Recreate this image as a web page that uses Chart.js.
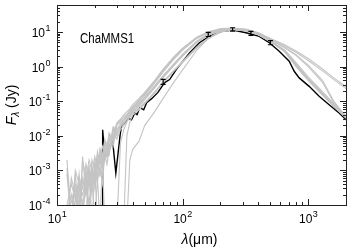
<!DOCTYPE html>
<html>
<head>
<meta charset="utf-8">
<script src="https://cdn.jsdelivr.net/npm/chart.js@4.4.1/dist/chart.umd.min.js"></script>
<style>
  html, body { margin: 0; padding: 0; background: #fff; }
  canvas { display: block; }
</style>
</head>
<body>
<canvas id="sed" width="354" height="250"></canvas>
<script>
'use strict'

// wavelength grid of the model SEDs (micron)
const wavelengths = [12, 13, 14, 15, 16, 17, 18, 19, 20, 21, 22, 23, 24, 25, 26, 27, 28, 29, 30, 32, 34, 36, 38, 40,
  45, 50, 60, 70, 85, 100, 130, 160, 200, 250, 320, 400, 500, 650, 800, 1000, 1300, 1600, 2000]

// grey model fluxes (Jy), one per fit
const model1 = [2e-3, 5e-5, 3e-4, 1e-4, 6e-4, 2e-4, 8e-4, 3e-4, 1.5e-3, 6e-4, 3e-3, 1.5e-3, 5e-3, 3e-3, 8e-3, 6e-3, 1.2e-2, 1e-2, 1.6e-2, 2e-2, 2.8e-2, 3.5e-2, 4.5e-2, 5.5e-2,
  0.1, 0.15, 0.33, 0.7, 1.6, 3.0, 6.5, 9.5, 12, 12.5, 11, 8.5, 5.5, 2.9, 1.2, 0.45, 0.17, 0.08, 0.037]
const model2 = [5e-5, 2e-4, 5e-5, 8e-4, 1e-4, 4e-4, 1.2e-3, 5e-4, 6e-4, 2e-3, 8e-4, 3e-3, 2e-3, 6e-3, 4e-3, 1e-2, 7e-3, 1.4e-2, 1.2e-2, 1.8e-2, 2.5e-2, 3e-2, 4e-2, 5e-2,
  0.08, 0.12, 0.25, 0.5, 1.1, 2.1, 5.2, 8.2, 11, 12, 11, 8.5, 5.6, 3.0, 1.3, 0.5, 0.19, 0.085, 0.038]
const model3 = [3e-5, 3e-5, 1.5e-4, 3e-5, 2.5e-3, 2e-4, 6e-4, 1e-3, 4e-4, 1.5e-3, 2.5e-3, 1e-3, 4e-3, 2.5e-3, 6e-3, 5e-3, 9e-3, 1.3e-2, 1e-2, 2e-2, 2.2e-2, 3.2e-2, 4e-2, 6e-2,
  0.09, 0.13, 0.28, 0.55, 1.2, 2.3, 5.5, 8.8, 11.5, 13, 12, 9.5, 6.5, 4.3, 2.8, 1.7, 0.85, 0.47, 0.26]
const model4 = [5e-5, 1.2e-4, 4e-4, 2e-4, 5e-5, 1e-3, 3e-4, 2e-3, 1e-3, 3e-3, 1.5e-3, 5e-3, 3.5e-3, 2.5e-3, 9e-3, 7e-3, 1.5e-2, 1.1e-2, 2e-2, 2.5e-2, 3e-2, 4e-2, 5e-2, 6.5e-2,
  0.11, 0.17, 0.38, 0.8, 1.8, 3.3, 7, 10, 12.5, 13, 12, 9.5, 6.4, 4.0, 2.6, 1.5, 0.75, 0.42, 0.23]
const model5 = [3e-5, 3e-5, 3e-5, 3e-4, 1e-4, 5e-5, 7e-4, 2e-4, 2e-3, 5e-4, 1.2e-3, 4e-4, 3e-3, 1.5e-3, 4e-3, 8e-3, 5e-3, 1e-2, 8e-3, 1.5e-2, 2e-2, 2.6e-2, 3.5e-2, 4.5e-2,
  0.06, 0.09, 0.18, 0.35, 0.75, 1.4, 3.6, 6.5, 10, 12, 11, 8.4, 5.3, 2.7, 1.0, 0.4, 0.15, 0.07, 0.033]
const model6 = [1e-4, 4e-4, 1.5e-4, 6e-4, 3e-4, 1.5e-3, 5e-4, 9e-4, 2.5e-3, 1.2e-3, 4e-3, 2e-3, 6e-3, 4e-3, 1.1e-2, 8e-3, 1.6e-2, 1.3e-2, 2.2e-2, 2.8e-2, 3.5e-2, 4.2e-2, 5.5e-2, 7e-2,
  0.1, 0.16, 0.36, 0.75, 1.7, 3.1, 6.8, 9.8, 12, 12.5, 11.5, 9.0, 6.0, 3.6, 2.2, 1.1, 0.4, 0.1, 0.035]
const model7 = [3e-5, 3e-5, 8e-4, 3e-5, 3e-5, 3e-5, 1.5e-3, 3e-5, 3e-5, 6e-4, 3e-5, 3e-5, 3e-5, 3e-5, 3e-5, 3e-5, 3e-5, 3e-5, 3e-5, 6e-3, 1.5e-2, 2.5e-2, 3.5e-2, 5e-2,
  0.07, 0.11, 0.24, 0.48, 1.05, 2.0, 5.0, 8.0, 11, 12, 11, 8.6, 5.5, 2.8, 1.1, 0.43, 0.16, 0.075, 0.034]
const model8 = [1.2e-3, 3e-5, 3e-5, 5e-4, 3e-5, 3e-5, 3e-5, 9e-4, 3e-5, 3e-5, 3e-5, 2e-3, 3e-5, 3e-5, 3e-5, 3e-5, 3e-5, 3e-5, 3e-5, 3e-5, 3e-5, 1e-2, 2.5e-2, 4e-2,
  0.055, 0.085, 0.17, 0.34, 0.72, 1.3, 3.4, 6.3, 9.8, 11.5, 11, 8.4, 5.4, 2.7, 1.05, 0.41, 0.155, 0.072, 0.033]
const model9 = [3e-5, 3e-5, 3e-5, 3e-5, 3e-5, 7e-4, 3e-5, 3e-5, 1e-3, 3e-5, 3e-5, 3e-5, 3e-5, 3e-5, 3e-5, 3e-5, 3e-5, 3e-5, 3e-5, 3e-5, 3e-5, 3e-5, 2e-3, 4e-3,
  0.007, 0.02, 0.05, 0.12, 0.35, 0.8, 3, 6.5, 10.5, 12, 11.2, 8.6, 5.6, 2.9, 1.15, 0.44, 0.17, 0.078, 0.036]
const model10 = [3e-5, 6e-4, 2e-4, 5e-5, 1.8e-3, 7e-4, 1e-4, 1.2e-3, 3e-4, 8e-4, 4e-3, 2e-3, 7e-3, 5e-3, 3e-3, 1e-2, 8e-3, 1.8e-2, 1.4e-2, 2.2e-2, 3e-2, 3.8e-2, 5e-2, 6e-2,
  0.08, 0.13, 0.27, 0.52, 1.15, 2.1, 5.1, 8.1, 11.2, 12.3, 11.3, 8.8, 5.9, 3.5, 2.1, 1.0, 0.35, 0.09, 0.034]
const model11 = [8e-4, 3e-5, 1e-3, 4e-4, 2e-4, 6e-4, 2e-3, 1e-3, 5e-4, 3.5e-3, 1.5e-3, 2.5e-3, 8e-3, 5e-3, 1.2e-2, 9e-3, 1.8e-2, 1.5e-2, 2.4e-2, 3e-2, 4e-2, 5e-2, 6e-2, 8e-2,
  0.12, 0.18, 0.4, 0.85, 1.9, 3.4, 7, 10, 12, 12.3, 11, 8.3, 5.4, 2.8, 1.1, 0.42, 0.16, 0.076, 0.035]
const model12 = [3e-5, 3e-5, 5e-5, 1.5e-4, 5e-4, 3e-4, 1e-4, 4e-4, 1.2e-3, 2e-3, 7e-4, 1e-3, 2e-3, 4.5e-3, 3e-3, 6e-3, 1.1e-2, 9e-3, 1.2e-2, 1.8e-2, 2.4e-2, 3e-2, 3.8e-2, 5e-2,
  0.06, 0.09, 0.19, 0.36, 0.78, 1.4, 3.7, 6.7, 10.2, 11.8, 10.8, 8.3, 5.3, 2.7, 1.05, 0.41, 0.155, 0.073, 0.034]
const models = [model1, model2, model3, model4, model5, model6, model7, model8, model9, model10, model11, model12]

// best fit (black)
const bestWave = [23.0, 23.1, 24.0, 25.4, 27.6, 29.4, 31.9, 32.8, 34.7, 36.8, 39.2, 41.6, 43.4, 45.6, 49.0, 51.7, 56.7, 63.4,
  72, 78.8, 89, 114, 136, 164, 209, 251, 320, 408, 490, 588, 706, 774, 848, 1018, 1222, 1468, 1762, 2004]
const bestFlux = [5e-5, 0.0149, 0.0025, 0.0028, 0.0085, 0.00083, 0.0114, 0.0208, 0.0233, 0.0326, 0.0291, 0.0455, 0.0407, 0.0649, 0.0568, 0.0906, 0.118, 0.176,
  0.343, 0.42, 0.82, 2.49, 4.86, 7.56, 10.5, 11.3, 9.48, 7.41, 4.86, 2.77, 1.42, 0.73, 0.47, 0.268, 0.138, 0.079, 0.0455, 0.029]

// observed photometry
const obsWave = [70, 160, 250, 350, 500]
const obsFlux = [0.36, 8.5, 11.8, 9.1, 4.9]
const obsErr = [0.18, 0.15, 0.12, 0.14, 0.15] // fractional

const xMajor = [10, 100, 1000]
const yMajor = [1e-4, 1e-3, 1e-2, 1e-1, 1, 10]

const FONT = '"Liberation Sans", Arial, sans-serif'

function drawPow(ctx, exp, px, py, align) {
  const base = '10'
  const e = String(exp)
  ctx.font = '12px ' + FONT
  const wb = ctx.measureText(base).width
  ctx.font = '9px ' + FONT
  const we = ctx.measureText(e).width
  const w = wb + we
  const left = align === 'center' ? px - w / 2 : px - w
  ctx.textAlign = 'left'
  ctx.textBaseline = 'alphabetic'
  ctx.font = '12px ' + FONT
  ctx.fillText(base, left, py)
  ctx.font = '9px ' + FONT
  ctx.fillText(e, left + wb + 0.5, py - 6)
}

const sedFrame = {
  id: 'sedFrame',
  afterDatasetsDraw(chart) {
    const { ctx, chartArea: a, scales } = chart
    const x = scales.x
    const y = scales.y
    ctx.save()

    // error bars
    ctx.strokeStyle = '#000'
    ctx.lineWidth = 1.2
    obsWave.forEach((w, i) => {
      const px = x.getPixelForValue(w)
      const lo = y.getPixelForValue(obsFlux[i] / (1 + obsErr[i]))
      const hi = y.getPixelForValue(obsFlux[i] * (1 + obsErr[i]))
      ctx.beginPath()
      ctx.moveTo(px, lo); ctx.lineTo(px, hi)
      ctx.moveTo(px - 2.5, lo); ctx.lineTo(px + 2.5, lo)
      ctx.moveTo(px - 2.5, hi); ctx.lineTo(px + 2.5, hi)
      ctx.stroke()
    })

    // frame
    ctx.strokeStyle = '#222'
    ctx.lineWidth = 1
    ctx.strokeRect(Math.round(a.left) + 0.5, Math.round(a.top) + 0.5,
      Math.round(a.right - a.left), Math.round(a.bottom - a.top))

    // ticks, inward on all sides
    ctx.beginPath()
    for (let d = 10; d < 2000; d *= 10) {
      for (let k = 1; k < 10; k++) {
        const v = k * d
        if (v > 2000) break
        const px = Math.round(x.getPixelForValue(v)) + 0.5
        const len = k === 1 ? 6 : 3
        ctx.moveTo(px, a.bottom); ctx.lineTo(px, a.bottom - len)
        ctx.moveTo(px, a.top); ctx.lineTo(px, a.top + len)
      }
    }
    for (let d = 1e-4; d < 60; d *= 10) {
      for (let k = 1; k < 10; k++) {
        const v = k * d
        if (v > 60) break
        const py = Math.round(y.getPixelForValue(v)) + 0.5
        const len = k === 1 ? 6 : 3
        ctx.moveTo(a.left, py); ctx.lineTo(a.left + len, py)
        ctx.moveTo(a.right, py); ctx.lineTo(a.right - len, py)
      }
    }
    ctx.stroke()

    // tick labels
    ctx.fillStyle = '#000'
    xMajor.forEach((v) => {
      drawPow(ctx, Math.round(Math.log10(v)), x.getPixelForValue(v), a.bottom + 18, 'center')
    })
    yMajor.forEach((v) => {
      drawPow(ctx, Math.round(Math.log10(v)), a.left - 7, y.getPixelForValue(v) + 5, 'right')
    })

    // axis titles
    ctx.textBaseline = 'alphabetic'
    ctx.textAlign = 'left'
    ctx.font = 'italic 14px ' + FONT
    const wl = ctx.measureText('\u03BB').width
    ctx.font = '14px ' + FONT
    const wu = ctx.measureText('(\u03BCm)').width
    let tx = (a.left + a.right) / 2 - 2 - (wl + wu) / 2
    ctx.font = 'italic 14px ' + FONT
    ctx.fillText('\u03BB', tx, 244)
    ctx.font = '14px ' + FONT
    ctx.fillText('(\u03BCm)', tx + wl, 244)

    ctx.translate(16, (a.top + a.bottom) / 2)
    ctx.rotate(-Math.PI / 2)
    ctx.font = 'italic 14px ' + FONT
    const wf = ctx.measureText('F').width
    ctx.font = 'italic 10px ' + FONT
    const ws = ctx.measureText('\u03BB').width
    ctx.font = '14px ' + FONT
    const wj = ctx.measureText(' (Jy)').width
    tx = -(wf + ws + wj) / 2
    ctx.font = 'italic 14px ' + FONT
    ctx.fillText('F', tx, 0)
    ctx.font = 'italic 10px ' + FONT
    ctx.fillText('\u03BB', tx + wf, 3)
    ctx.font = '14px ' + FONT
    ctx.fillText(' (Jy)', tx + wf + ws, 0)
    ctx.restore()

    // source name
    ctx.save()
    ctx.fillStyle = '#000'
    ctx.font = '14px ' + FONT
    ctx.textAlign = 'left'
    ctx.translate(80, 43)
    ctx.scale(0.82, 1)
    ctx.fillText('ChaMMS1', 0, 0)
    ctx.restore()
  }
}

const datasets = models.map((m) => ({
  data: wavelengths.map((w, i) => ({ x: w, y: m[i] })),
  borderColor: '#c4c4c4',
  borderWidth: 1.1,
  showLine: true,
  pointRadius: 0,
  clip: 0
}))
datasets.push({
  data: bestWave.map((w, i) => ({ x: w, y: bestFlux[i] })),
  borderColor: '#000',
  borderWidth: 1.4,
  showLine: true,
  pointRadius: 0,
  clip: 0
})

new Chart(document.getElementById('sed'), {
  type: 'scatter',
  data: { datasets },
  options: {
    responsive: false,
    animation: false,
    devicePixelRatio: 1,
    layout: { padding: { left: 57, right: 8, top: 5, bottom: 45 } },
    scales: {
      x: { type: 'logarithmic', min: 10, max: 2000, display: false },
      y: { type: 'logarithmic', min: 1e-4, max: 60, display: false }
    },
    plugins: {
      legend: { display: false },
      tooltip: { enabled: false }
    }
  },
  plugins: [sedFrame]
})
</script>
</body>
</html>
